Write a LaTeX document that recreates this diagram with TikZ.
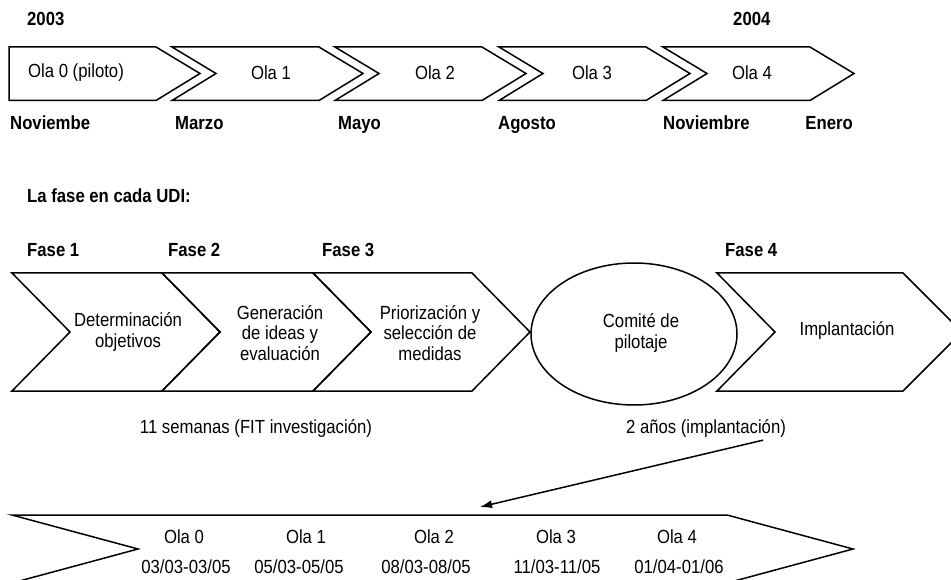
\documentclass[tikz,border=0pt]{standalone}
\usepackage{fontspec}
\setmainfont{Liberation Sans}[FakeStretch=0.88]
\usetikzlibrary{arrows.meta}

\begin{document}
\begin{tikzpicture}[x=1pt,y=-1pt]
        \tikzstyle{every node}+=[inner sep=0pt, font=\fontsize{19}{20.5}\selectfont]
        \tikzstyle{trazo}=[black, line width=1.5pt]
        \tikzstyle{negrita}=[anchor=base west, font=\fontsize{19}{20.5}\selectfont\bfseries]
        \tikzstyle{texto}=[align=center]
        \useasboundingbox (0,0) rectangle (951,580);
        % olas 2003-2004
        \draw [trazo] (9,47) -- (156,47) -- (200,73.5) -- (156,100.5) -- (9,100.5) -- cycle;
        \draw [trazo] (172,47) -- (319,47) -- (363,73.5) -- (319,100.5) -- (172,100.5) -- (216,73.5) -- cycle;
        \draw [trazo] (335,47) -- (482,47) -- (526,73.5) -- (482,100.5) -- (335,100.5) -- (379,73.5) -- cycle;
        \draw [trazo] (499,47) -- (646,47) -- (690,73.5) -- (646,100.5) -- (499,100.5) -- (543,73.5) -- cycle;
        \draw [trazo] (663,47) -- (810,47) -- (854,73.5) -- (810,100.5) -- (663,100.5) -- (707,73.5) -- cycle;
        \node [negrita] (a2003) at (27,26) {2003};
        \node [negrita] (a2004) at (733,26) {2004};
        \node (ola0) at (76,73) {Ola 0 (piloto)};
        \node (ola1) at (271,73) {Ola 1};
        \node (ola2) at (435,73) {Ola 2};
        \node (ola3) at (592,73) {Ola 3};
        \node (ola4) at (752,73) {Ola 4};
        \node [negrita] (nov03) at (10,130) {Noviembe};
        \node [negrita] (mar) at (175,130) {Marzo};
        \node [negrita] (may) at (338,130) {Mayo};
        \node [negrita] (ago) at (498,130) {Agosto};
        \node [negrita] (nov04) at (663,130) {Noviembre};
        \node [negrita, anchor=base east] (ene) at (853,130) {Enero};
        % fases en cada UDI
        \node [negrita] (udi) at (27,203) {La fase en cada UDI:};
        \node [negrita] (fase1) at (27,257) {Fase 1};
        \node [negrita] (fase2) at (168,257) {Fase 2};
        \node [negrita] (fase3) at (322,257) {Fase 3};
        \node [negrita] (fase4) at (725,257) {Fase 4};
        \draw [trazo] (12,273) -- (162,273) -- (220,332) -- (162,391) -- (12,391) -- (70,332) -- cycle;
        \draw [trazo] (162,273) -- (313,273) -- (371,332) -- (313,391) -- (162,391) -- (220,332) -- cycle;
        \draw [trazo] (313,273) -- (472,273) -- (530,332) -- (472,391) -- (313,391) -- (371,332) -- cycle;
        \draw [trazo] (634,334) ellipse (103 and 71);
        \draw [trazo] (717,273) -- (903,273) -- (962,332) -- (903,391) -- (717,391) -- (775,332) -- cycle;
        \node [texto] (deter) at (128,332) {Determinación\\objetivos};
        \node [texto] (gener) at (280,333) {Generación\\de ideas y\\evaluación};
        \node [texto] (prior) at (430,333) {Priorización y\\selección de\\medidas};
        \node [texto] (comite) at (641,333) {Comité de\\pilotaje};
        \node [texto] (impl) at (847,330) {Implantación};
        \node [anchor=base] (semanas) at (256,433) {11 semanas (FIT investigación)};
        \node [anchor=base] (anos) at (706,433) {2 años (implantación)};
        % calendario de olas
        \draw [trazo] (12,515) -- (727,515) -- (853,549) -- (727,583) -- (12,583) -- (138,549) -- cycle;
        \coordinate (destino) at (480,507);
        \draw [trazo, -{Latex[length=12pt,width=8pt]}] ([xshift=-23pt,yshift=-3pt]anos.south east) -- (destino);
        \node [anchor=base] (b0) at (184,543) {Ola 0};
        \node [anchor=base] (b1) at (306,543) {Ola 1};
        \node [anchor=base] (b2) at (434,543) {Ola 2};
        \node [anchor=base] (b3) at (556,543) {Ola 3};
        \node [anchor=base] (b4) at (677,543) {Ola 4};
        \node [anchor=base] (f0) at (186,573) {03/03-03/05};
        \node [anchor=base] (f1) at (299,573) {05/03-05/05};
        \node [anchor=base] (f2) at (426,573) {08/03-08/05};
        \node [anchor=base] (f3) at (557,573) {11/03-11/05};
        \node [anchor=base] (f4) at (679,573) {01/04-01/06};
\end{tikzpicture}
\end{document}
